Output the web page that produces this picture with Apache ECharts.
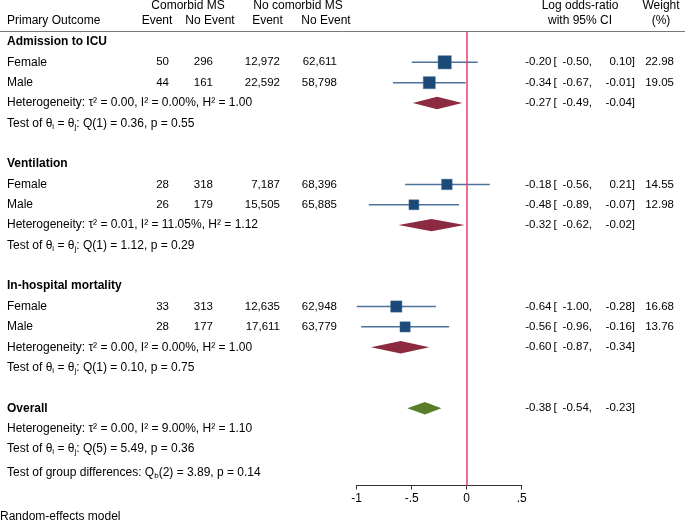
<!DOCTYPE html>
<html>
<head>
<meta charset="utf-8">
<script src="https://cdn.jsdelivr.net/npm/echarts@6/dist/echarts.min.js"></script>
<style>
  html, body { margin: 0; padding: 0; background: #fff; }
  #chart { width: 685px; height: 523px; }
</style>
</head>
<body>
<div id="chart"></div>
<script>
// Forest plot: log odds-ratio by outcome and sex
const outcomes = ['Admission to ICU', 'Ventilation', 'In-hospital mortality'];
const sexes = ['Female', 'Male'];

// one entry per study row (Female/Male for each outcome)
const comEvent = [50, 44, 28, 26, 33, 28];
const comNoEvent = [296, 161, 318, 179, 313, 177];
const noComEvent = [12972, 22592, 7187, 15505, 12635, 17611];
const noComNoEvent = [62611, 58798, 68396, 65885, 62948, 63779];
const studyEst = [-0.20, -0.34, -0.18, -0.48, -0.64, -0.56];
const studyLo = [-0.50, -0.67, -0.56, -0.89, -1.00, -0.96];
const studyHi = [0.10, -0.01, 0.21, -0.07, -0.28, -0.16];
const weights = [22.98, 19.05, 14.55, 12.98, 16.68, 13.76];

// subgroup summaries
const groupEst = [-0.27, -0.32, -0.60];
const groupLo = [-0.49, -0.62, -0.87];
const groupHi = [-0.04, -0.02, -0.34];
const groupTau2 = ['0.00', '0.01', '0.00'];
const groupI2 = ['0.00', '11.05', '0.00'];
const groupH2 = ['1.00', '1.12', '1.00'];
const groupQ = ['0.36', '1.12', '0.10'];
const groupP = ['0.55', '0.29', '0.75'];

// overall
const overallCI = [-0.38, -0.54, -0.23];
const overallHet = ['0.00', '9.00', '1.10'];
const overallQ = ['5', '5.49', '0.36'];
const groupDiff = ['2', '3.89', '0.14'];

const xTicks = [-1, -0.5, 0, 0.5];
const xTickLabels = ['-1', '-.5', '0', '.5'];

const FONT = '"Liberation Sans", Arial, Helvetica, sans-serif';

// row layout
const studyRow = i => Math.floor(i / 2) * 6 + 1 + (i % 2);
const groupRow = g => g * 6 + 3;
const OVERALL_ROW = 18;

const fmtN = n => n.toLocaleString('en-US');
const f2 = v => v.toFixed(2);

// text rows drawn via custom series (y from axis)
const textItems = [];
function addText(row, x, text, align, bold, size) {
  textItems.push({ row: row, x: x, text: text, align: align || 'left', bold: !!bold, size: size || 12 });
}
function addCI(row, est, lo, hi, w) {
  addText(row, 551.5, f2(est), 'right', false, 11.5);
  addText(row, 553.5, '[', 'left', false, 11.5);
  addText(row, 592, f2(lo) + ',', 'right', false, 11.5);
  addText(row, 635, f2(hi) + ']', 'right', false, 11.5);
  if (w != null) addText(row, 674, f2(w), 'right', false, 11.5);
}
const hetText = (t, i, h) => 'Heterogeneity: τ² = ' + t + ', I² = ' + i + '%, H² = ' + h;
const testText = (df, q, p) => '{t|Test of θ}{s|i}{t| = θ}{s|j}{t|: Q(' + df + ') = ' + q + ', p = ' + p + '}';

outcomes.forEach((name, g) => {
  addText(g * 6, 7, name, 'left', true);
  addText(groupRow(g), 7, hetText(groupTau2[g], groupI2[g], groupH2[g]));
  addText(g * 6 + 4, 7, testText(1, groupQ[g], groupP[g]));
  addCI(groupRow(g), groupEst[g], groupLo[g], groupHi[g], null);
});
studyEst.forEach((est, i) => {
  const r = studyRow(i);
  addText(r, 7, sexes[i % 2]);
  addText(r, 169, String(comEvent[i]), 'right', false, 11.5);
  addText(r, 213, String(comNoEvent[i]), 'right', false, 11.5);
  addText(r, 280, fmtN(noComEvent[i]), 'right', false, 11.5);
  addText(r, 337, fmtN(noComNoEvent[i]), 'right', false, 11.5);
  addCI(r, est, studyLo[i], studyHi[i], weights[i]);
});
addText(OVERALL_ROW, 7, 'Overall', 'left', true);
addCI(OVERALL_ROW, overallCI[0], overallCI[1], overallCI[2], null);
addText(OVERALL_ROW + 1, 7, hetText(overallHet[0], overallHet[1], overallHet[2]));
addText(OVERALL_ROW + 2, 7, testText(overallQ[0], overallQ[1], overallQ[2]));
addText(OVERALL_ROW + 3.15, 7, '{t|Test of group differences: Q}{s|b}{t|(' + groupDiff[0] + ') = ' + groupDiff[1] + ', p = ' + groupDiff[2] + '}');

const richStyle = {
  t: { fontSize: 12, fontFamily: FONT, lineHeight: 14, color: '#000' },
  s: { fontSize: 8, fontFamily: FONT, lineHeight: 6, verticalAlign: 'bottom', color: '#000' }
};

const ciData = studyEst.map((e, i) => [studyLo[i], studyHi[i], studyRow(i)]);
const squareData = studyEst.map((e, i) => [e, studyRow(i), weights[i]]);
const diamondData = groupEst.map((e, g) => [e, groupLo[g], groupHi[g], groupRow(g), 0])
  .concat([[overallCI[0], overallCI[1], overallCI[2], OVERALL_ROW, 1]]);

const chart = echarts.init(document.getElementById('chart'));

const headerText = (x, y, text, align) => ({
  type: 'text', x: x, y: y,
  style: { text: text, font: '12px ' + FONT, textAlign: align || 'center', textVerticalAlign: 'middle', fill: '#000' }
});

const option = {
  animation: false,
  backgroundColor: '#fff',
  textStyle: { fontFamily: FONT },
  grid: { left: 356.7, width: 165, top: 31.8, height: 453.8 },
  xAxis: {
    type: 'value',
    min: xTicks[0],
    max: xTicks[xTicks.length - 1],
    interval: 0.5,
    splitLine: { show: false },
    axisLine: { show: true, onZero: false, lineStyle: { color: '#333', width: 1 } },
    axisTick: { show: true, length: 4, lineStyle: { color: '#333', width: 1 } },
    axisLabel: {
      margin: 7, fontSize: 12, color: '#000', fontFamily: FONT,
      formatter: v => xTickLabels[xTicks.indexOf(v)]
    }
  },
  yAxis: { type: 'value', min: -0.5, max: 21.8, inverse: true, show: false },
  graphic: [
    { type: 'line', shape: { x1: 0, y1: 31.5, x2: 685, y2: 31.5 }, style: { stroke: '#777', lineWidth: 1 } },
    headerText(188, 6, 'Comorbid MS'),
    headerText(298, 6, 'No comorbid MS'),
    headerText(7, 21, 'Primary Outcome', 'left'),
    headerText(157, 21, 'Event'),
    headerText(210, 21, 'No Event'),
    headerText(267.5, 21, 'Event'),
    headerText(326, 21, 'No Event'),
    headerText(580, 6, 'Log odds-ratio'),
    headerText(580, 21, 'with 95% CI'),
    headerText(661, 6, 'Weight'),
    headerText(661, 21, '(%)'),
    headerText(0, 517, 'Random-effects model', 'left')
  ],
  series: [
    {
      // confidence interval whiskers
      type: 'custom',
      data: ciData,
      clip: false,
      renderItem: (params, api) => {
        const a = api.coord([api.value(0), api.value(2)]);
        const b = api.coord([api.value(1), api.value(2)]);
        return {
          type: 'line',
          shape: { x1: a[0], y1: a[1], x2: b[0], y2: b[1] },
          style: { stroke: '#4d729b', lineWidth: 1.5 }
        };
      },
      markLine: {
        silent: true,
        symbol: 'none',
        label: { show: false },
        lineStyle: { color: '#e3416d', width: 1.5, type: 'solid' },
        data: [{ xAxis: 0 }]
      }
    },
    {
      type: 'scatter',
      data: squareData,
      symbol: 'rect',
      symbolSize: d => Math.sqrt(d[2]) * 2.75,
      itemStyle: { color: '#1c4a78', borderColor: '#3f6790', borderWidth: 0.5, opacity: 1 }
    },
    {
      // pooled estimates (diamonds)
      type: 'custom',
      data: diamondData,
      clip: false,
      renderItem: (params, api) => {
        const row = api.value(3);
        const c = api.coord([api.value(0), row]);
        const l = api.coord([api.value(1), row]);
        const r = api.coord([api.value(2), row]);
        return {
          type: 'polygon',
          shape: { points: [l, [c[0], c[1] - 6.2], r, [c[0], c[1] + 6.2]] },
          style: { fill: api.value(4) ? '#5a7d2b' : '#8c2b3f' }
        };
      }
    },
    {
      // table text, positioned by row on the y axis
      type: 'custom',
      data: textItems.map(t => [0, t.row]),
      clip: false,
      silent: true,
      renderItem: (params, api) => {
        const t = textItems[params.dataIndex];
        const y = api.coord([0, api.value(1)])[1];
        const isRich = t.text.indexOf('{t|') === 0;
        return {
          type: 'text',
          x: t.x,
          y: y,
          style: {
            text: t.text,
            font: (t.bold ? 'bold ' : '') + t.size + 'px ' + FONT,
            textAlign: t.align,
            textVerticalAlign: 'middle',
            fill: '#000',
            rich: isRich ? richStyle : undefined
          }
        };
      }
    }
  ]
};

chart.setOption(option);
</script>
</body>
</html>
